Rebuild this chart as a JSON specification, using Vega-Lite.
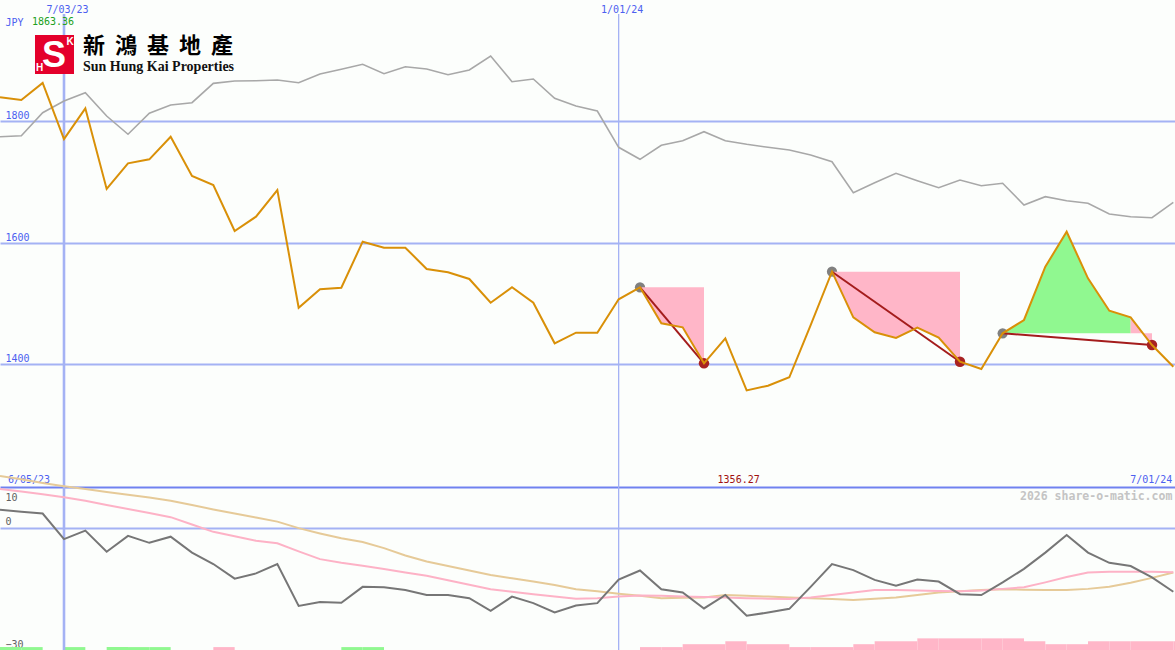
{
  "$schema": "https://vega.github.io/schema/vega-lite/v6.json",
  "background": "#fcfefc",
  "padding": 0,
  "autosize": {"type": "none"},
  "width": 1175,
  "height": 650,
  "config": {
    "view": {"stroke": null},
    "text": {"font": "DejaVu Sans Mono", "fontSize": 10}
  },
  "datasets": {
    "weekly": [
      {"date": "2023-06-12", "price": 1839.6, "hsi": 1774.6, "osc": 4.4, "ma1": 9.5, "ma2": 12.7, "hist": 1, "side": "up"},
      {"date": "2023-06-19", "price": 1835.1, "hsi": 1776.2, "osc": 3.9, "ma1": 8.9, "ma2": 11.9, "hist": 1, "side": "up"},
      {"date": "2023-06-26", "price": 1863.36, "hsi": 1814.2, "osc": 3.5, "ma1": 8.2, "ma2": 11.0, "hist": 0, "side": "up"},
      {"date": "2023-07-03", "price": 1770.8, "hsi": 1833.5, "osc": -2.8, "ma1": 7.5, "ma2": 10.2, "hist": 1, "side": "up"},
      {"date": "2023-07-10", "price": 1821.4, "hsi": 1847.2, "osc": -0.7, "ma1": 6.6, "ma2": 9.5, "hist": 0, "side": "up"},
      {"date": "2023-07-17", "price": 1688.4, "hsi": 1808.7, "osc": -5.9, "ma1": 5.6, "ma2": 8.8, "hist": 1, "side": "up"},
      {"date": "2023-07-24", "price": 1730.7, "hsi": 1778.6, "osc": -2.0, "ma1": 4.6, "ma2": 8.1, "hist": 1, "side": "up"},
      {"date": "2023-07-31", "price": 1737.3, "hsi": 1813.2, "osc": -3.7, "ma1": 3.6, "ma2": 7.4, "hist": 1, "side": "up"},
      {"date": "2023-08-07", "price": 1774.6, "hsi": 1826.9, "osc": -2.2, "ma1": 2.6, "ma2": 6.6, "hist": 0, "side": "up"},
      {"date": "2023-08-14", "price": 1709.8, "hsi": 1830.7, "osc": -6.1, "ma1": 0.8, "ma2": 5.6, "hist": 0, "side": "up"},
      {"date": "2023-08-21", "price": 1694.9, "hsi": 1862.6, "osc": -8.9, "ma1": -1.0, "ma2": 4.5, "hist": 1, "side": "down"},
      {"date": "2023-08-28", "price": 1619.1, "hsi": 1866.4, "osc": -12.5, "ma1": -2.1, "ma2": 3.5, "hist": 0, "side": "down"},
      {"date": "2023-09-04", "price": 1642.7, "hsi": 1866.9, "osc": -11.2, "ma1": -3.2, "ma2": 2.5, "hist": 0, "side": "down"},
      {"date": "2023-09-11", "price": 1686.7, "hsi": 1868.1, "osc": -8.9, "ma1": -3.8, "ma2": 1.5, "hist": 0, "side": "down"},
      {"date": "2023-09-18", "price": 1492.6, "hsi": 1863.6, "osc": -19.2, "ma1": -5.8, "ma2": -0.1, "hist": 0, "side": "down"},
      {"date": "2023-09-25", "price": 1523.0, "hsi": 1878.0, "osc": -18.2, "ma1": -7.7, "ma2": -1.4, "hist": 0, "side": "down"},
      {"date": "2023-10-02", "price": 1525.6, "hsi": 1885.7, "osc": -18.4, "ma1": -8.6, "ma2": -2.6, "hist": 1, "side": "up"},
      {"date": "2023-10-09", "price": 1601.5, "hsi": 1894.0, "osc": -14.5, "ma1": -9.3, "ma2": -3.5, "hist": 1, "side": "up"},
      {"date": "2023-10-16", "price": 1591.6, "hsi": 1878.5, "osc": -14.6, "ma1": -10.1, "ma2": -5.0, "hist": 0, "side": "up"},
      {"date": "2023-10-23", "price": 1591.6, "hsi": 1890.0, "osc": -15.3, "ma1": -11.0, "ma2": -6.8, "hist": 0, "side": "up"},
      {"date": "2023-10-30", "price": 1556.5, "hsi": 1886.2, "osc": -16.5, "ma1": -11.8, "ma2": -8.3, "hist": 0, "side": "up"},
      {"date": "2023-11-06", "price": 1551.0, "hsi": 1876.8, "osc": -16.5, "ma1": -12.9, "ma2": -9.4, "hist": 0, "side": "up"},
      {"date": "2023-11-13", "price": 1540.0, "hsi": 1884.6, "osc": -17.3, "ma1": -14.0, "ma2": -10.5, "hist": 0, "side": "up"},
      {"date": "2023-11-20", "price": 1500.9, "hsi": 1907.7, "osc": -20.4, "ma1": -15.1, "ma2": -11.6, "hist": 0, "side": "up"},
      {"date": "2023-11-27", "price": 1526.3, "hsi": 1865.3, "osc": -16.9, "ma1": -15.7, "ma2": -12.4, "hist": 0, "side": "up"},
      {"date": "2023-12-04", "price": 1500.9, "hsi": 1869.7, "osc": -18.5, "ma1": -16.3, "ma2": -13.2, "hist": 0, "side": "up"},
      {"date": "2023-12-11", "price": 1433.9, "hsi": 1837.9, "osc": -20.8, "ma1": -16.9, "ma2": -14.05, "hist": 0, "side": "up"},
      {"date": "2023-12-18", "price": 1451.4, "hsi": 1825.2, "osc": -19.1, "ma1": -17.4, "ma2": -15.1, "hist": 0, "side": "up"},
      {"date": "2023-12-25", "price": 1451.4, "hsi": 1817.0, "osc": -18.5, "ma1": -17.3, "ma2": -15.6, "hist": 0, "side": "up"},
      {"date": "2024-01-01", "price": 1506.5, "hsi": 1757.1, "osc": -12.7, "ma1": -16.9, "ma2": -16.2, "hist": 0, "side": "up"},
      {"date": "2024-01-08", "price": 1526.3, "hsi": 1737.3, "osc": -10.5, "ma1": -16.6, "ma2": -16.7, "hist": 1, "side": "down"},
      {"date": "2024-01-15", "price": 1466.9, "hsi": 1760.4, "osc": -15.1, "ma1": -16.7, "ma2": -17.3, "hist": 1, "side": "down"},
      {"date": "2024-01-22", "price": 1460.3, "hsi": 1768.0, "osc": -15.9, "ma1": -16.9, "ma2": -17.2, "hist": 2, "side": "down"},
      {"date": "2024-01-29", "price": 1400.9, "hsi": 1782.8, "osc": -19.8, "ma1": -17.0, "ma2": -17.1, "hist": 2, "side": "down"},
      {"date": "2024-02-05", "price": 1442.2, "hsi": 1768.0, "osc": -16.5, "ma1": -17.1, "ma2": -16.5, "hist": 3, "side": "down"},
      {"date": "2024-02-12", "price": 1356.27, "hsi": 1762.1, "osc": -21.6, "ma1": -17.3, "ma2": -16.7, "hist": 2, "side": "down"},
      {"date": "2024-02-19", "price": 1364.0, "hsi": 1757.1, "osc": -20.8, "ma1": -17.4, "ma2": -16.9, "hist": 2, "side": "down"},
      {"date": "2024-02-26", "price": 1377.9, "hsi": 1752.7, "osc": -19.9, "ma1": -17.5, "ma2": -17.1, "hist": 1, "side": "down"},
      {"date": "2024-03-04", "price": 1464.0, "hsi": 1744.4, "osc": -14.5, "ma1": -17.1, "ma2": -17.3, "hist": 1, "side": "down"},
      {"date": "2024-03-11", "price": 1552.0, "hsi": 1733.4, "osc": -8.9, "ma1": -16.5, "ma2": -17.5, "hist": 1, "side": "down"},
      {"date": "2024-03-18", "price": 1476.8, "hsi": 1682.3, "osc": -10.4, "ma1": -15.9, "ma2": -17.7, "hist": 2, "side": "down"},
      {"date": "2024-03-25", "price": 1452.1, "hsi": 1698.7, "osc": -12.8, "ma1": -15.3, "ma2": -17.4, "hist": 3, "side": "down"},
      {"date": "2024-04-01", "price": 1442.7, "hsi": 1714.2, "osc": -14.2, "ma1": -15.3, "ma2": -17.1, "hist": 3, "side": "down"},
      {"date": "2024-04-08", "price": 1459.7, "hsi": 1702.0, "osc": -12.7, "ma1": -15.4, "ma2": -16.5, "hist": 4, "side": "down"},
      {"date": "2024-04-15", "price": 1443.2, "hsi": 1690.5, "osc": -13.2, "ma1": -15.5, "ma2": -15.9, "hist": 4, "side": "down"},
      {"date": "2024-04-22", "price": 1403.6, "hsi": 1703.2, "osc": -16.3, "ma1": -15.6, "ma2": -15.6, "hist": 4, "side": "down"},
      {"date": "2024-04-29", "price": 1391.6, "hsi": 1693.8, "osc": -16.5, "ma1": -15.4, "ma2": -15.3, "hist": 4, "side": "down"},
      {"date": "2024-05-06", "price": 1450.4, "hsi": 1697.8, "osc": -13.4, "ma1": -15.0, "ma2": -15.1, "hist": 4, "side": "down"},
      {"date": "2024-05-13", "price": 1472.4, "hsi": 1661.9, "osc": -10.1, "ma1": -14.6, "ma2": -15.2, "hist": 3, "side": "down"},
      {"date": "2024-05-20", "price": 1560.2, "hsi": 1675.7, "osc": -6.1, "ma1": -13.4, "ma2": -15.3, "hist": 2, "side": "down"},
      {"date": "2024-05-27", "price": 1617.9, "hsi": 1669.1, "osc": -1.8, "ma1": -12.1, "ma2": -15.3, "hist": 2, "side": "down"},
      {"date": "2024-06-03", "price": 1541.1, "hsi": 1664.8, "osc": -6.1, "ma1": -11.0, "ma2": -15.0, "hist": 3, "side": "down"},
      {"date": "2024-06-10", "price": 1487.7, "hsi": 1647.1, "osc": -8.6, "ma1": -10.8, "ma2": -14.5, "hist": 3, "side": "down"},
      {"date": "2024-06-17", "price": 1476.8, "hsi": 1642.7, "osc": -9.4, "ma1": -10.8, "ma2": -13.5, "hist": 3, "side": "down"},
      {"date": "2024-06-24", "price": 1431.1, "hsi": 1641.0, "osc": -12.2, "ma1": -10.8, "ma2": -12.3, "hist": 3, "side": "down"},
      {"date": "2024-07-01", "price": 1395.4, "hsi": 1666.4, "osc": -15.7, "ma1": -10.9, "ma2": -11.0, "hist": 3, "side": "down"}
    ],
    "dev": [
      {"date": "2024-01-08", "price": 1526.3, "base": 1526.3, "seg": "A", "trend": "down"},
      {"date": "2024-01-15", "price": 1466.9, "base": 1526.3, "seg": "A", "trend": "down"},
      {"date": "2024-01-22", "price": 1460.3, "base": 1526.3, "seg": "A", "trend": "down"},
      {"date": "2024-01-29", "price": 1400.9, "base": 1526.3, "seg": "A", "trend": "down"},
      {"date": "2024-03-11", "price": 1552.0, "base": 1552.0, "seg": "B", "trend": "down"},
      {"date": "2024-03-18", "price": 1476.8, "base": 1552.0, "seg": "B", "trend": "down"},
      {"date": "2024-03-25", "price": 1452.1, "base": 1552.0, "seg": "B", "trend": "down"},
      {"date": "2024-04-01", "price": 1442.7, "base": 1552.0, "seg": "B", "trend": "down"},
      {"date": "2024-04-08", "price": 1459.7, "base": 1552.0, "seg": "B", "trend": "down"},
      {"date": "2024-04-15", "price": 1443.2, "base": 1552.0, "seg": "B", "trend": "down"},
      {"date": "2024-04-22", "price": 1403.6, "base": 1552.0, "seg": "B", "trend": "down"},
      {"date": "2024-05-06", "price": 1450.4, "base": 1450.4, "seg": "C", "trend": "up"},
      {"date": "2024-05-13", "price": 1472.4, "base": 1450.4, "seg": "C", "trend": "up"},
      {"date": "2024-05-20", "price": 1560.2, "base": 1450.4, "seg": "C", "trend": "up"},
      {"date": "2024-05-27", "price": 1617.9, "base": 1450.4, "seg": "C", "trend": "up"},
      {"date": "2024-06-03", "price": 1541.1, "base": 1450.4, "seg": "C", "trend": "up"},
      {"date": "2024-06-10", "price": 1487.7, "base": 1450.4, "seg": "C", "trend": "up"},
      {"date": "2024-06-17", "price": 1476.8, "base": 1450.4, "seg": "C", "trend": "up"},
      {"date": "2024-06-17", "price": 1476.8, "base": 1450.4, "seg": "D", "trend": "down"},
      {"date": "2024-06-24", "price": 1431.1, "base": 1450.4, "seg": "D", "trend": "down"}
    ],
    "trend": [
      {"date": "2024-01-08", "value": 1526.3, "seg": "A", "role": "start"},
      {"date": "2024-01-29", "value": 1400.9, "seg": "A", "role": "end"},
      {"date": "2024-03-11", "value": 1552.0, "seg": "B", "role": "start"},
      {"date": "2024-04-22", "value": 1403.6, "seg": "B", "role": "end"},
      {"date": "2024-05-06", "value": 1450.4, "seg": "C", "role": "start"},
      {"date": "2024-06-24", "value": 1431.1, "seg": "C", "role": "end"}
    ],
    "dateLines": [
      {"date": "2023-07-03", "label": "7/03/23"},
      {"date": "2024-01-01", "label": "1/01/24"}
    ]
  },
  "encoding": {
    "x": {
      "field": "date", "type": "temporal", "axis": null,
      "scale": {"type": "utc", "padding": 0, "nice": false, "domain": [
        {"year": 2023, "month": 6, "date": 12, "utc": true},
        {"year": 2024, "month": 7, "date": 1, "hours": 13, "minutes": 14, "utc": true}
      ]}
    }
  },
  "layer": [
    {
      "layer": [
        {
          "data": {"name": "dateLines"},
          "mark": {"type": "rule", "color": "#a4b2f4"},
          "encoding": {
            "y": {
              "datum": 1977, "type": "quantitative",
              "scale": {"domain": [1197, 2000], "range": [487, 0], "nice": false, "zero": false},
              "axis": {
                "orient": "left", "values": [1400, 1600, 1800], "format": "d",
                "grid": true, "gridColor": "#a4b2f4", "gridWidth": 2,
                "domain": false, "ticks": false, "tickSize": 0,
                "labelPadding": -5, "labelAlign": "left", "labelBaseline": "alphabetic", "labelOffset": -2.5,
                "labelColor": "#4c60f0", "labelFont": "DejaVu Sans Mono", "labelFontSize": 10,
                "title": "JPY", "titleAngle": 0, "titleX": 5, "titleY": 25, "titleAlign": "left",
                "titleBaseline": "alphabetic", "titleColor": "#4c60f0", "titleFont": "DejaVu Sans Mono",
                "titleFontSize": 10, "titleFontWeight": "normal"
              }
            },
            "y2": {"datum": 1197},
            "strokeWidth": {"condition": {"test": "datum.label == '7/03/23'", "value": 2.6}, "value": 1.3}
          }
        },
        {
          "data": {"name": "dateLines"},
          "mark": {"type": "text", "color": "#4c60f0", "dx": 3.5, "baseline": "alphabetic", "align": "center"},
          "encoding": {"y": {"datum": 1978.8, "type": "quantitative"}, "text": {"field": "label"}}
        },
        {
          "data": {"name": "trend"},
          "transform": [{"filter": "datum.role == 'start'"}],
          "mark": {"type": "circle", "size": 105, "color": "#808080", "opacity": 1},
          "encoding": {"y": {"field": "value", "type": "quantitative"}}
        },
        {
          "data": {"name": "dev"},
          "mark": {"type": "area", "opacity": 1},
          "encoding": {
            "y": {"field": "price", "type": "quantitative"},
            "y2": {"field": "base"},
            "detail": {"field": "seg"},
            "color": {"field": "trend", "type": "nominal", "legend": null,
              "scale": {"domain": ["down", "up"], "range": ["#ffb6c8", "#90f890"]}}
          }
        },
        {
          "data": {"name": "trend"},
          "mark": {"type": "line", "color": "#a41c1c", "strokeWidth": 2},
          "encoding": {"y": {"field": "value", "type": "quantitative"}, "detail": {"field": "seg"}}
        },
        {
          "data": {"name": "trend"},
          "transform": [{"filter": "datum.role == 'end'"}],
          "mark": {"type": "circle", "size": 110, "color": "#a82222", "opacity": 1},
          "encoding": {"y": {"field": "value", "type": "quantitative"}}
        },
        {
          "data": {"name": "weekly"},
          "mark": {"type": "line", "color": "#a8a8a8", "strokeWidth": 1.6},
          "encoding": {"y": {"field": "hsi", "type": "quantitative"}}
        },
        {
          "data": {"name": "weekly"},
          "mark": {"type": "line", "color": "#d99008", "strokeWidth": 2},
          "encoding": {"y": {"field": "price", "type": "quantitative"}}
        },
        {
          "data": {"name": "weekly"},
          "transform": [
            {"joinaggregate": [{"op": "max", "field": "price", "as": "pmax"}]},
            {"filter": "datum.price == datum.pmax"}
          ],
          "mark": {"type": "text", "color": "#20a020", "align": "left", "baseline": "alphabetic", "dx": -10.7},
          "encoding": {"y": {"datum": 1958.8, "type": "quantitative"}, "text": {"field": "price", "type": "quantitative", "format": ".2f"}}
        },
        {
          "data": {"name": "weekly"},
          "transform": [
            {"joinaggregate": [{"op": "min", "field": "price", "as": "pmin"}]},
            {"filter": "datum.price == datum.pmin"}
          ],
          "mark": {"type": "text", "color": "#a01010", "align": "center", "baseline": "alphabetic", "dx": -8},
          "encoding": {"y": {"datum": 1203.6, "type": "quantitative"}, "text": {"field": "price", "type": "quantitative", "format": ".2f"}}
        },
        {
          "data": {"name": "weekly"},
          "transform": [{"window": [{"op": "row_number", "as": "rn"}]}, {"filter": "datum.rn == 1"}],
          "mark": {"type": "text", "text": "6/05/23", "color": "#4c60f0", "align": "left", "baseline": "alphabetic", "dx": 8},
          "encoding": {"y": {"datum": 1203.6, "type": "quantitative"}}
        },
        {
          "data": {"name": "weekly"},
          "transform": [{"window": [{"op": "row_number", "as": "rn"}]}, {"filter": "datum.rn == 56"}],
          "mark": {"type": "text", "text": "7/01/24", "color": "#4c60f0", "align": "right", "baseline": "alphabetic", "dx": -1},
          "encoding": {"y": {"datum": 1203.6, "type": "quantitative"}}
        },
        {
          "data": {"name": "dateLines"},
          "transform": [{"filter": "datum.label == '7/03/23'"}],
          "mark": {"type": "square", "size": 1521, "color": "#e4002b", "opacity": 1, "xOffset": -9.5},
          "encoding": {"y": {"datum": 1910, "type": "quantitative"}}
        },
        {
          "data": {"name": "dateLines"},
          "transform": [{"filter": "datum.label == '7/03/23'"}],
          "mark": {"type": "text", "text": "S", "font": "Liberation Sans", "fontWeight": "bold", "fontSize": 36, "color": "#ffffff", "align": "center", "baseline": "middle", "dx": -10, "dy": 1},
          "encoding": {"y": {"datum": 1910, "type": "quantitative"}}
        },
        {
          "data": {"name": "dateLines"},
          "transform": [{"filter": "datum.label == '7/03/23'"}],
          "mark": {"type": "text", "text": "K", "font": "Liberation Sans", "fontWeight": "bold", "fontSize": 10, "color": "#ffffff", "align": "center", "baseline": "middle", "dx": 6, "dy": -13},
          "encoding": {"y": {"datum": 1910, "type": "quantitative"}}
        },
        {
          "data": {"name": "dateLines"},
          "transform": [{"filter": "datum.label == '7/03/23'"}],
          "mark": {"type": "text", "text": "H", "font": "Liberation Sans", "fontWeight": "bold", "fontSize": 10, "color": "#ffffff", "align": "center", "baseline": "middle", "dx": -24.5, "dy": 13.5},
          "encoding": {"y": {"datum": 1910, "type": "quantitative"}}
        },
        {
          "data": {"name": "dateLines"},
          "transform": [{"filter": "datum.label == '7/03/23'"}],
          "mark": {"type": "text", "text": "新\u00a0\u00a0鴻\u00a0\u00a0基\u00a0\u00a0地\u00a0\u00a0產", "font": "Noto Sans CJK TC", "fontWeight": "bold", "fontSize": 22, "color": "#000000", "align": "left", "baseline": "middle", "dx": 19, "dy": -9},
          "encoding": {"y": {"datum": 1910, "type": "quantitative"}}
        },
        {
          "data": {"name": "dateLines"},
          "transform": [{"filter": "datum.label == '7/03/23'"}],
          "mark": {"type": "text", "text": "Sun Hung Kai Properties", "font": "Liberation Serif", "fontWeight": "bold", "fontSize": 14, "color": "#111111", "align": "left", "baseline": "alphabetic", "dx": 19, "dy": 16.8},
          "encoding": {"y": {"datum": 1910, "type": "quantitative"}}
        }
      ]
    },
    {
      "data": {"name": "weekly"},
      "mark": {"type": "bar", "width": 21.33, "xOffset": 10.67, "opacity": 1},
      "encoding": {
        "y": {"field": "hist", "type": "quantitative", "axis": null, "scale": {"domain": [0, 56], "range": [650, 487], "nice": false}},
        "color": {"field": "side", "type": "nominal", "legend": null,
          "scale": {"domain": ["up", "down"], "range": ["#90f890", "#ffb6c8"]}}
      }
    },
    {
      "layer": [
        {
          "data": {"name": "dateLines"},
          "mark": {"type": "rule", "color": "#a4b2f4"},
          "encoding": {
            "y": {
              "datum": 10, "type": "quantitative",
              "scale": {"domain": [-30, 10], "range": [650, 487], "nice": false, "zero": false},
              "axis": {
                "orient": "left", "values": [10, 0, -30], "grid": true, "gridWidth": 2,
                "gridColor": {"condition": {"test": "datum.value == 10", "value": "#7082f0"}, "value": "#a4b2f4"},
                "gridOpacity": {"condition": {"test": "datum.value == -30", "value": 0}, "value": 1},
                "domain": false, "ticks": false, "tickSize": 0,
                "labelPadding": -5, "labelAlign": "left", "labelBaseline": "alphabetic",
                "labelOffset": {"condition": {"test": "datum.value == 10", "value": 13}, "value": -3},
                "labelColor": "#606060", "labelFont": "DejaVu Sans Mono", "labelFontSize": 10,
                "title": null
              }
            },
            "y2": {"datum": -30},
            "strokeWidth": {"condition": {"test": "datum.label == '7/03/23'", "value": 2.6}, "value": 1.3}
          }
        },
        {
          "data": {"name": "weekly"},
          "mark": {"type": "line", "color": "#e6ca98", "strokeWidth": 2},
          "encoding": {"y": {"field": "ma2", "type": "quantitative"}}
        },
        {
          "data": {"name": "weekly"},
          "mark": {"type": "line", "color": "#fdb2c6", "strokeWidth": 2},
          "encoding": {"y": {"field": "ma1", "type": "quantitative"}}
        },
        {
          "data": {"name": "weekly"},
          "mark": {"type": "line", "color": "#767676", "strokeWidth": 2},
          "encoding": {"y": {"field": "osc", "type": "quantitative"}}
        },
        {
          "data": {"name": "weekly"},
          "transform": [{"window": [{"op": "row_number", "as": "rn"}]}, {"filter": "datum.rn == 56"}],
          "mark": {"type": "text", "text": "2026 share-o-matic.com", "font": "DejaVu Sans Mono", "fontWeight": "bold", "fontSize": 11.5, "color": "#c4c4c4", "align": "right", "baseline": "alphabetic", "dx": -1},
          "encoding": {"y": {"datum": 6.8, "type": "quantitative"}}
        }
      ]
    }
  ],
  "resolve": {"scale": {"y": "independent"}}
}
